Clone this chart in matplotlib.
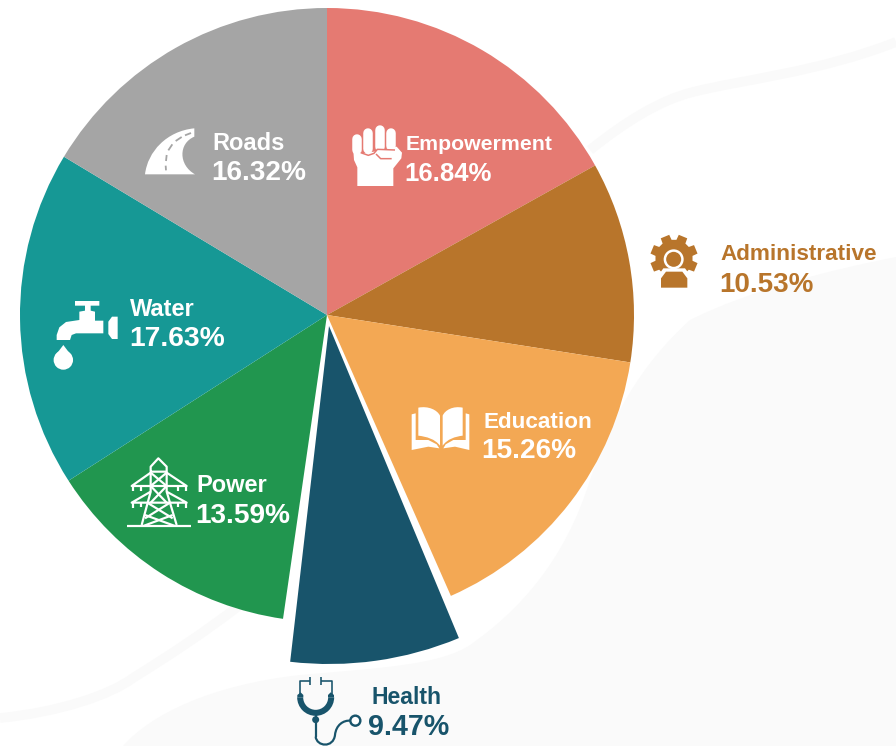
#importacion de librerias
import numpy as np
import matplotlib.pyplot as plt
from matplotlib.patches import Polygon, Circle, Wedge, PathPatch
from matplotlib.path import Path

plt.rcParams['font.family'] = ['Liberation Sans', 'DejaVu Sans']

#Datos
labels = ['Empowerment', 'Administrative', 'Education', 'Health', 'Power', 'Water', 'Roads']
values = [16.84, 10.53, 15.26, 9.47, 13.59, 17.63, 16.32]
value_labels = ['16.84%', '10.53%', '15.26%', '9.47%', '13.59%', '17.63%', '16.32%']
colors = ['#E57A72', '#B8752B', '#F3A854', '#18546B', '#21964F', '#169895', '#A5A5A5']

#Posicion y tamano de los textos (pixeles del original)
name_pos = [(406, 145), (720, 255), (483, 423), (371, 697), (196, 486), (130, 309), (212, 144)]
val_pos = [(404, 174), (719, 285), (481, 451), (368, 727), (195, 516), (129, 339), (211, 173)]
name_size = [15.3, 16.2, 16.2, 16.6, 17, 17, 17]
val_size = [18.5, 20, 20.2, 20.6, 20.2, 20.3, 20.2]
text_cols = ['white', '#B8752B', 'white', '#18546B', 'white', 'white', 'white']

fig = plt.figure(figsize=(8.96, 7.46), dpi=100)
ax = fig.add_axes([0, 0, 1, 1])

#Fondo gris claro
bg = '#FAFAFA'
verts = [(123, 746), (150, 715), (210, 685), (300, 675), (380, 668), (440, 665), (470, 645),
         (520, 610), (565, 560), (590, 480), (610, 420), (640, 365), (690, 320),
         (750, 290), (830, 270), (896, 257), (896, 746), (123, 746)]
codes = [Path.MOVETO] + [Path.CURVE4] * 15 + [Path.LINETO, Path.CLOSEPOLY]
ax.add_patch(PathPatch(Path(verts, codes), fc=bg, ec='none', zorder=0))
cinta = [Path.MOVETO] + [Path.CURVE4] * 6
ax.add_patch(PathPatch(Path([(0, 718), (60, 712), (110, 695), (133, 678), (170, 655), (205, 632), (240, 605)], cinta),
                       fc='none', ec=bg, lw=7, zorder=0))
ax.add_patch(PathPatch(Path([(590, 150), (625, 122), (660, 100), (693, 92), (740, 80), (820, 72), (896, 42)], cinta),
                       fc='none', ec=bg, lw=7, zorder=0))

#Pastel: el eje y esta invertido, asi que counterclock=True se ve en sentido horario
wedges, _ = ax.pie(values, colors=colors, startangle=270, counterclock=True, radius=307,
                   center=(327, 315), frame=True, wedgeprops=dict(linewidth=0))

#En el original la rebanada Health esta separada y ampliada
wedges[2].set_theta2(66.2)
wedges[3].set(center=(329, 326), radius=338, theta1=67.4, theta2=96.6)
wedges[3].set_zorder(3)

ax.set_xlim(0, 896)
ax.set_ylim(746, 0)
ax.set_aspect('equal')
ax.axis('off')

for i in range(len(labels)):
    ax.text(name_pos[i][0], name_pos[i][1], labels[i], color=text_cols[i], fontsize=name_size[i],
            fontweight='bold', va='center', ha='left', zorder=5)
    ax.text(val_pos[i][0], val_pos[i][1], value_labels[i], color=text_cols[i], fontsize=val_size[i],
            fontweight='bold', va='center', ha='left', zorder=5)


#Iconos: coordenadas tomadas de recortes ampliados 3x
def z(ox, oy, pts):
    return [(ox + p[0] / 3, oy + p[1] / 3) for p in pts]


def poly(ox, oy, pts, col='white', zo=4):
    ax.add_patch(Polygon(z(ox, oy, pts), closed=True, fc=col, ec='none', zorder=zo))


def line(ox, oy, pts, col='white', w=2.0, cap='butt', zo=4):
    q = z(ox, oy, pts)
    ax.plot([p[0] for p in q], [p[1] for p in q], color=col, lw=w * 0.72,
            solid_capstyle=cap, solid_joinstyle='round', zorder=zo)


def curve(ox, oy, pts, col='white', w=2.0, fill=False, zo=4):
    q = z(ox, oy, pts)
    n = len(q)
    cds = [Path.MOVETO] + [Path.CURVE4] * (n - 1)
    if fill:
        ax.add_patch(PathPatch(Path(q + [q[0]], cds + [Path.CLOSEPOLY]), fc=col, ec='none', zorder=zo))
    else:
        ax.add_patch(PathPatch(Path(q, cds), fc='none', ec=col, lw=w * 0.72, zorder=zo))


#Empowerment
ox, oy = 340, 110
for pts in [[(51, 88), (51, 120)], [(84, 68), (84, 118)], [(121, 60), (121, 110)], [(154, 68), (154, 108)]]:
    line(ox, oy, pts, w=9.5, cap='round')
poly(ox, oy, [(40, 122), (70, 130), (102, 125), (170, 110), (186, 128), (184, 145), (160, 175),
              (160, 228), (52, 228), (52, 172), (42, 150)])
line(ox, oy, [(62, 128), (85, 136), (102, 130), (112, 118), (165, 120)], col=colors[0], w=1.5)
line(ox, oy, [(108, 132), (122, 146), (155, 146)], col=colors[0], w=1.5)

#Administrative
ox, oy = 630, 220
ang = np.radians(np.arange(0, 360, 45) + 22.5)
gear = []
for a in ang:
    for da, r in [(-15, 56), (-11, 72), (11, 72), (15, 56)]:
        b = a + np.radians(da)
        gear.append((132 + r * np.cos(b), 115 + r * np.sin(b)))
poly(ox, oy, gear, col=colors[1])
c = z(ox, oy, [(131, 118)])[0]
ax.add_patch(Circle(c, 10, fc='white', ec='none', zorder=4.1))
ax.add_patch(Circle(c, 7.5, fc=colors[1], ec='none', zorder=4.2))
poly(ox, oy, [(82, 205), (82, 170), (100, 145), (165, 145), (184, 170), (184, 205)], col='white', zo=4.1)
poly(ox, oy, [(93, 203), (93, 175), (108, 155), (157, 155), (172, 175), (172, 203)], col=colors[1], zo=4.2)

#Education
ox, oy = 400, 395
curve(ox, oy, [(55, 38), (85, 32), (112, 45), (120, 62), (120, 90), (120, 125), (120, 152),
               (105, 132), (80, 125), (55, 122)], fill=True)
curve(ox, oy, [(188, 38), (160, 32), (135, 45), (128, 62), (128, 90), (128, 125), (128, 152),
               (142, 132), (165, 125), (188, 122)], fill=True)
poly(ox, oy, [(35, 58), (47, 55), (47, 135), (85, 135), (110, 148), (118, 160), (85, 155), (35, 165)])
poly(ox, oy, [(208, 58), (197, 55), (197, 135), (160, 135), (137, 148), (130, 160), (165, 155), (208, 165)])

#Health
ox, oy = 270, 600
col = colors[3]
line(ox, oy, [(120, 232), (120, 255)], col=col, w=1.6)
line(ox, oy, [(120, 243), (91, 243), (91, 285)], col=col, w=1.6)
line(ox, oy, [(152, 232), (152, 255)], col=col, w=1.6)
line(ox, oy, [(152, 243), (185, 243), (185, 285)], col=col, w=1.6)
c = z(ox, oy, [(137, 292)])[0]
ax.add_patch(Wedge(c, 18.5, 0, 180, width=6, fc=col, ec='none', zorder=4))
poly(ox, oy, [(82, 292), (82, 285), (92, 277), (100, 285), (100, 292)], col=col)
poly(ox, oy, [(174, 292), (174, 285), (182, 277), (192, 285), (192, 292)], col=col)
c = z(ox, oy, [(137, 359)])[0]
ax.add_patch(Circle(c, 3.5, fc=col, ec='none', zorder=4))
line(ox, oy, [(137, 340), (137, 410)], col=col, w=2.2)
curve(ox, oy, [(137, 410), (140, 440), (190, 445), (195, 405), (198, 375), (220, 360), (242, 362)], col=col, w=2.2)
c = z(ox, oy, [(256, 362)])[0]
ax.add_patch(Circle(c, 5, fc='white', ec=col, lw=2.4 * 0.72, zorder=4))

#Power
ox, oy = 120, 450
w = 2.2
line(ox, oy, [(20, 228), (213, 228)], w=w)
line(ox, oy, [(92, 65), (92, 50), (115, 25), (140, 50), (140, 65), (92, 65)], w=w)
line(ox, oy, [(92, 65), (92, 125), (65, 225)], w=w)
line(ox, oy, [(140, 65), (140, 125), (170, 225)], w=w)
line(ox, oy, [(92, 68), (35, 108), (200, 108), (140, 68)], w=w)
line(ox, oy, [(92, 125), (35, 158), (200, 158), (140, 125)], w=w)
line(ox, oy, [(92, 68), (140, 108)], w=w)
line(ox, oy, [(140, 68), (92, 108)], w=w)
line(ox, oy, [(92, 108), (140, 158)], w=w)
line(ox, oy, [(140, 108), (92, 158)], w=w)
line(ox, oy, [(82, 158), (158, 205)], w=w)
line(ox, oy, [(150, 158), (75, 205)], w=w)
line(ox, oy, [(75, 195), (165, 228)], w=w)
line(ox, oy, [(158, 195), (70, 228)], w=w)
for x, y0, y1 in [(38, 108, 124), (62, 108, 122), (175, 108, 122), (198, 108, 124),
                  (38, 158, 174), (62, 158, 172), (175, 158, 172), (198, 158, 174)]:
    line(ox, oy, [(x, y0), (x, y1)], w=w)

#Water
ox, oy = 40, 280
poly(ox, oy, [(105, 63), (178, 63), (178, 77), (152, 77), (152, 92), (165, 95), (165, 122),
              (190, 122), (190, 160), (108, 160), (95, 165), (90, 180), (50, 180), (50, 165),
              (58, 142), (78, 126), (118, 120), (118, 95), (135, 92), (135, 77), (105, 77)])
poly(ox, oy, [(233, 110), (233, 177), (216, 177), (205, 162), (205, 125), (216, 110)])
ax.add_patch(Circle(z(ox, oy, [(70, 240)])[0], 9.7, fc='white', ec='none', zorder=4))
poly(ox, oy, [(70, 195), (45, 228), (95, 228)])

#Roads
ox, oy = 135, 115
curve(ox, oy, [(30, 178), (38, 110), (95, 48), (178, 40), (178, 48), (178, 56), (178, 65),
               (130, 85), (130, 150), (180, 178)], fill=True)
gris = colors[6]
for pts in [[(93, 166), (92, 152)], [(93, 138), (95, 120)], [(100, 106), (112, 88)],
            [(122, 78), (140, 66)], [(150, 61), (168, 54)]]:
    line(ox, oy, pts, col=gris, w=1.8)

fig.savefig('out.png', dpi=100)
